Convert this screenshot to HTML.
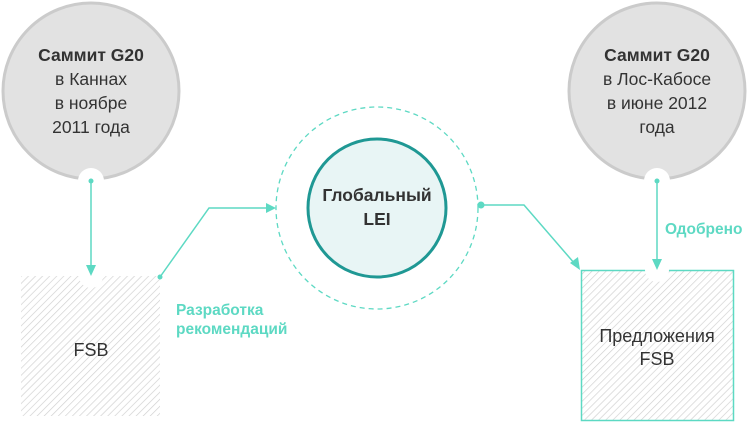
<!DOCTYPE html>
<html><head><meta charset="utf-8"><style>
html,body{margin:0;padding:0;background:#fff}
svg{display:block}
text{font-family:"Liberation Sans","DejaVu Sans",sans-serif}
</style></head><body>
<svg width="750" height="423" viewBox="0 0 750 423" xmlns="http://www.w3.org/2000/svg">
<defs>
<pattern id="h" width="5" height="5" patternUnits="userSpaceOnUse" patternTransform="rotate(45)">
<rect width="5" height="5" fill="#fff"/><line x1="0" y1="0" x2="0" y2="5" stroke="#cfcfcf" stroke-width="1.3"/>
</pattern>
</defs>
<circle cx="91" cy="91" r="88" fill="#e2e2e2" stroke="#cbcbcb" stroke-width="3"/>
<circle cx="91" cy="181" r="13" fill="#fff"/>
<g font-size="17.5" fill="#333" text-anchor="middle">
<text x="91" y="61" font-weight="bold">Саммит G20</text>
<text x="91" y="85">в Каннах</text>
<text x="91" y="109">в ноябре</text>
<text x="91" y="133">2011 года</text>
</g>
<circle cx="657" cy="91" r="88" fill="#e2e2e2" stroke="#cbcbcb" stroke-width="3"/>
<circle cx="657" cy="181" r="13" fill="#fff"/>
<g font-size="17.5" fill="#333" text-anchor="middle">
<text x="657" y="61" font-weight="bold">Саммит G20</text>
<text x="657" y="85">в Лос-Кабосе</text>
<text x="657" y="109">в июне 2012</text>
<text x="657" y="133">года</text>
</g>
<rect x="21" y="276" width="139" height="140" fill="url(#h)"/>
<circle cx="91" cy="276" r="12" fill="#fff"/>
<text x="91" y="356" font-size="18" fill="#333" text-anchor="middle">FSB</text>
<rect x="581.5" y="270.5" width="152" height="150" fill="url(#h)" stroke="#5dd9c3" stroke-width="1.5"/>
<circle cx="657" cy="270" r="12" fill="#fff"/>
<text x="657" y="342" font-size="18" fill="#333" text-anchor="middle">Предложения</text>
<text x="657" y="365" font-size="18" fill="#333" text-anchor="middle">FSB</text>
<circle cx="377" cy="208" r="101" fill="none" stroke="#5dd9c3" stroke-width="1.3" stroke-dasharray="5,4"/>
<circle cx="377" cy="208" r="69" fill="#e8f5f5" stroke="#1f9894" stroke-width="3"/>
<text x="377" y="201" font-size="17.5" font-weight="bold" fill="#333" text-anchor="middle">Глобальный</text>
<text x="377" y="225" font-size="17.5" font-weight="bold" fill="#333" text-anchor="middle">LEI</text>
<g stroke="#5dd9c3" stroke-width="1.5" fill="none">
<line x1="91" y1="181" x2="91" y2="268"/>
<line x1="657" y1="181" x2="657" y2="262"/>
<polyline points="160,277 209,208 268,208"/>
<polyline points="481,205 524,205 575,264"/>
</g>
<g fill="#5dd9c3">
<circle cx="91" cy="181" r="2.5"/><circle cx="657" cy="181" r="2.5"/>
<circle cx="160" cy="277" r="2.5"/><circle cx="481" cy="205" r="3.5"/>
<polygon points="86,265 96,265 91,276"/>
<polygon points="652,259 662,259 657,270"/>
<polygon points="266,203 266,213 276,208"/>
<polygon points="570,263 578,257 580,270"/>
</g>
<g font-size="15.5" font-weight="bold" fill="#5dd9c3">
<text x="176" y="315">Разработка</text>
<text x="176" y="334">рекомендаций</text>
<text x="665" y="234">Одобрено</text>
</g>
</svg>
</body></html>
